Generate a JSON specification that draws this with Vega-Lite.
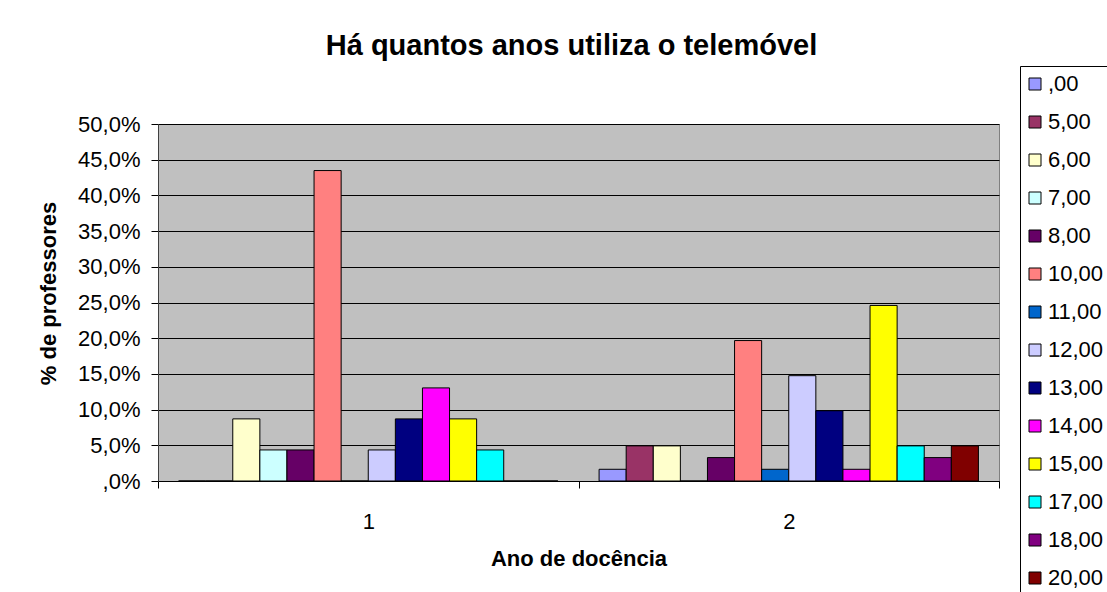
{
  "$schema": "https://vega.github.io/schema/vega-lite/v6.json",
  "width": 841,
  "height": 357,
  "autosize": {"type": "none"},
  "padding": {"left": 158, "top": 124, "right": 108, "bottom": 111},
  "background": "white",
  "title": {
    "text": "Há quantos anos utiliza o telemóvel",
    "font": "Liberation Sans",
    "fontSize": 29,
    "fontWeight": "bold",
    "color": "black",
    "anchor": "middle",
    "frame": "group",
    "baseline": "alphabetic",
    "offset": -18,
    "dx": -7
  },
  "data": {
    "values": [
      {"ano": "1", "anos": ",00", "pct": 0},
      {"ano": "1", "anos": "5,00", "pct": 0},
      {"ano": "1", "anos": "6,00", "pct": 8.7},
      {"ano": "1", "anos": "7,00", "pct": 4.35},
      {"ano": "1", "anos": "8,00", "pct": 4.35},
      {"ano": "1", "anos": "10,00", "pct": 43.48},
      {"ano": "1", "anos": "11,00", "pct": 0},
      {"ano": "1", "anos": "12,00", "pct": 4.35},
      {"ano": "1", "anos": "13,00", "pct": 8.7},
      {"ano": "1", "anos": "14,00", "pct": 13.04},
      {"ano": "1", "anos": "15,00", "pct": 8.7},
      {"ano": "1", "anos": "17,00", "pct": 4.35},
      {"ano": "1", "anos": "18,00", "pct": 0},
      {"ano": "1", "anos": "20,00", "pct": 0},
      {"ano": "2", "anos": ",00", "pct": 1.64},
      {"ano": "2", "anos": "5,00", "pct": 4.92},
      {"ano": "2", "anos": "6,00", "pct": 4.92},
      {"ano": "2", "anos": "7,00", "pct": 0},
      {"ano": "2", "anos": "8,00", "pct": 3.28},
      {"ano": "2", "anos": "10,00", "pct": 19.67},
      {"ano": "2", "anos": "11,00", "pct": 1.64},
      {"ano": "2", "anos": "12,00", "pct": 14.75},
      {"ano": "2", "anos": "13,00", "pct": 9.84},
      {"ano": "2", "anos": "14,00", "pct": 1.64},
      {"ano": "2", "anos": "15,00", "pct": 24.59},
      {"ano": "2", "anos": "17,00", "pct": 4.92},
      {"ano": "2", "anos": "18,00", "pct": 3.28},
      {"ano": "2", "anos": "20,00", "pct": 4.92}
    ]
  },
  "mark": {"type": "bar", "stroke": "black", "strokeWidth": 1},
  "encoding": {
    "x": {
      "field": "ano",
      "type": "nominal",
      "scale": {"paddingInner": 0, "paddingOuter": 0},
      "axis": {
        "title": "Ano de docência",
        "labelAngle": 0,
        "labelFont": "Liberation Sans",
        "labelFontSize": 22,
        "labelColor": "black",
        "labelPadding": 23,
        "tickBand": "extent",
        "tickSize": 7,
        "tickColor": "black",
        "domainColor": "black",
        "titleFont": "Liberation Sans",
        "titleFontSize": 22,
        "titleFontWeight": "bold",
        "titleColor": "black",
        "titleBaseline": "alphabetic",
        "titleY": 84
      }
    },
    "xOffset": {
      "field": "anos",
      "type": "nominal",
      "sort": [",00", "5,00", "6,00", "7,00", "8,00", "10,00", "11,00", "12,00", "13,00", "14,00", "15,00", "17,00", "18,00", "20,00"],
      "scale": {"paddingInner": 0, "paddingOuter": 0.76}
    },
    "y": {
      "field": "pct",
      "type": "quantitative",
      "scale": {"domain": [0, 50], "nice": false},
      "axis": {
        "title": "% de professores",
        "values": [0, 5, 10, 15, 20, 25, 30, 35, 40, 45, 50],
        "labelExpr": "datum.value == 0 ? ',0%' : replace(format(datum.value, '.1f'), '.', ',') + '%'",
        "labelFont": "Liberation Sans",
        "labelFontSize": 22,
        "labelColor": "black",
        "labelPadding": 11,
        "tickSize": 7,
        "tickColor": "black",
        "domainColor": "#404040",
        "grid": true,
        "gridColor": "black",
        "gridWidth": 1,
        "titleFont": "Liberation Sans",
        "titleFontSize": 22,
        "titleFontWeight": "bold",
        "titleColor": "black",
        "titleAngle": 270,
        "titleAlign": "center",
        "titleBaseline": "alphabetic",
        "titleX": -103,
        "titleY": 169
      }
    },
    "color": {
      "field": "anos",
      "type": "nominal",
      "scale": {
        "domain": [",00", "5,00", "6,00", "7,00", "8,00", "10,00", "11,00", "12,00", "13,00", "14,00", "15,00", "17,00", "18,00", "20,00"],
        "range": ["#9999FF", "#993366", "#FFFFCC", "#CCFFFF", "#660066", "#FF8080", "#0066CC", "#CCCCFF", "#000080", "#FF00FF", "#FFFF00", "#00FFFF", "#800080", "#800000"]
      },
      "legend": {
        "orient": "none",
        "legendX": 862,
        "legendY": -58,
        "title": null,
        "symbolType": "square",
        "symbolSize": 144,
        "symbolStrokeColor": "black",
        "symbolStrokeWidth": 1,
        "symbolOpacity": 1,
        "symbolOffset": -3,
        "labelFont": "Liberation Sans",
        "labelFontSize": 22,
        "labelColor": "black",
        "labelOffset": 2,
        "rowPadding": 16,
        "padding": 7,
        "strokeColor": "black",
        "fillColor": "white"
      }
    }
  },
  "config": {
    "view": {"fill": "#C0C0C0", "stroke": "#808080", "strokeWidth": 1}
  }
}
